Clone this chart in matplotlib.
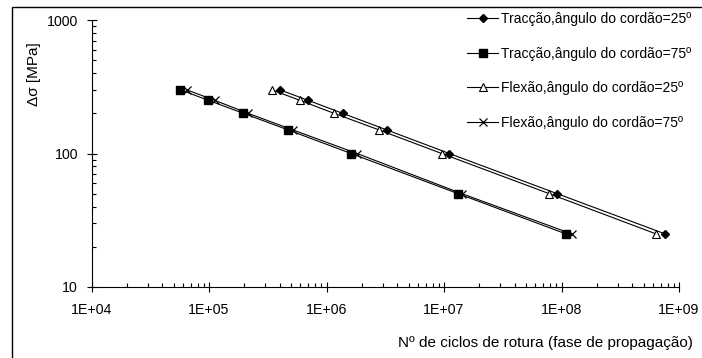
import matplotlib
matplotlib.use("Agg")
import matplotlib.pyplot as plt
from matplotlib.patches import Rectangle
from matplotlib.ticker import LogLocator, FixedLocator, NullFormatter, FixedFormatter

plt.rcParams['font.family'] = ['Liberation Sans', 'DejaVu Sans']

stress = [300, 250, 200, 150, 100, 50, 25]
n_trac_25 = [4.0e5, 7.0e5, 1.37e6, 3.27e6, 1.11e7, 9.2e7, 7.6e8]
n_trac_75 = [5.7e4, 9.9e4, 1.96e5, 4.73e5, 1.62e6, 1.32e7, 1.09e8]
n_flex_25 = [3.42e5, 5.95e5, 1.16e6, 2.81e6, 9.55e6, 7.87e7, 6.37e8]
n_flex_75 = [6.46e4, 1.12e5, 2.15e5, 5.19e5, 1.82e6, 1.42e7, 1.22e8]

labels = ["Tracção,ângulo do cordão=25º",
          "Tracção,ângulo do cordão=75º",
          "Flexão,ângulo do cordão=25º",
          "Flexão,ângulo do cordão=75º"]
xticks = [1e4, 1e5, 1e6, 1e7, 1e8, 1e9]
xticklabels = ["1E+04", "1E+05", "1E+06", "1E+07", "1E+08", "1E+09"]
yticks = [10, 100, 1000]
yticklabels = ["10", "100", "1000"]

W, H = 702, 358
fig = plt.figure(figsize=(W/100, H/100), dpi=100)
ax = fig.add_axes([91.5/W, 71/H, (679-91.5)/W, (287-20)/H])

lw = 0.8
ax.plot(n_trac_25, stress, color='black', lw=lw, marker='D', ms=4.5, mfc='black', mec='black', label=labels[0])
ax.plot(n_trac_75, stress, color='black', lw=lw, marker='s', ms=6, mfc='black', mec='black', label=labels[1])
ax.plot(n_flex_25, stress, color='black', lw=lw, marker='^', ms=6, mfc='white', mec='black', mew=0.8, label=labels[2])
ax.plot(n_flex_75, stress, color='black', lw=lw, marker='x', ms=6, mec='black', mew=0.9, label=labels[3])

ax.set_xscale('log')
ax.set_yscale('log')
ax.set_xlim(1e4, 1e9)
ax.set_ylim(10, 1000)

for s in ['top', 'right']:
    ax.spines[s].set_visible(False)
for s in ['left', 'bottom']:
    ax.spines[s].set_linewidth(0.8)

ax.xaxis.set_major_locator(FixedLocator(xticks))
ax.xaxis.set_major_formatter(FixedFormatter(xticklabels))
ax.yaxis.set_major_locator(FixedLocator(yticks))
ax.yaxis.set_major_formatter(FixedFormatter(yticklabels))
ax.xaxis.set_minor_locator(LogLocator(base=10, subs=range(2, 10), numticks=20))
ax.yaxis.set_minor_locator(LogLocator(base=10, subs=range(2, 10), numticks=20))
ax.xaxis.set_minor_formatter(NullFormatter())
ax.yaxis.set_minor_formatter(NullFormatter())
ax.tick_params(which='major', direction='inout', length=6.5, width=0.8, labelsize=10.2)
ax.tick_params(which='minor', direction='in', length=3, width=0.8)
ax.tick_params(axis='x', which='major', pad=8)
ax.tick_params(axis='y', which='major', pad=6.5)

fig.legend(loc='upper left', bbox_to_anchor=(467/W, 1 - 12/H), frameon=False,
           fontsize=10, labelspacing=1.48, handlelength=2.25, handletextpad=0.2,
           borderpad=0, borderaxespad=0)

fig.text(34/W, 1 - 74/H, "Δσ [MPa]", rotation=90, ha='center', va='center', fontsize=11)
fig.text(693/W, 1 - 343/H, "Nº de ciclos de rotura (fase de propagação)", ha='right', va='center', fontsize=11)

fig.patches.append(Rectangle((11.5/W, -0.05), 1.2, 1 - 7.5/H + 0.05, transform=fig.transFigure,
                             fill=False, edgecolor='black', lw=1.0))

fig.savefig("out.png", dpi=100)
